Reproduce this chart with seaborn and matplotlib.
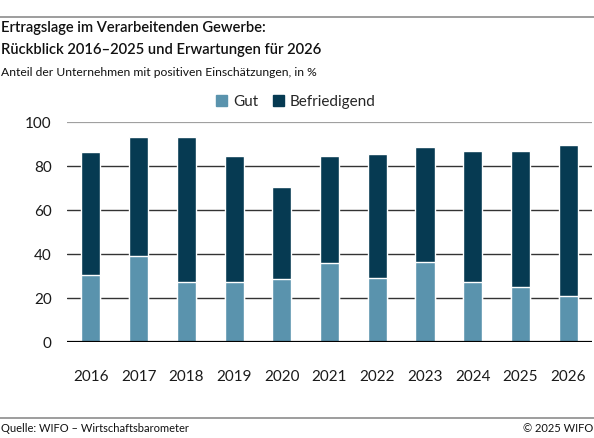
import matplotlib
matplotlib.use("Agg")
import matplotlib.pyplot as plt
import seaborn as sns
import pandas as pd
from matplotlib.patches import Patch
from matplotlib.lines import Line2D

# ================= DATOS =================
jahre = ['2016', '2017', '2018', '2019', '2020', '2021', '2022', '2023', '2024', '2025', '2026']
gut = [30.6, 39.1, 27.3, 27.3, 28.6, 35.8, 29.2, 36.2, 27.3, 25.2, 20.9]
gesamt = [86.5, 93.0, 93.0, 84.7, 70.3, 84.7, 85.6, 88.6, 86.7, 86.7, 89.7]
befriedigend = [round(t - g, 1) for t, g in zip(gesamt, gut)]

FARBE_GUT = '#5a93ad'
FARBE_BEF = '#063a52'

df = pd.DataFrame({'Jahr': jahre, 'Gut': gut, 'Befriedigend': befriedigend})
df['Summe'] = df['Gut'] + df['Befriedigend']

# ================= FIGUR =================
sns.set_style("white")
plt.rcParams['font.family'] = ['Lato', 'DejaVu Sans']

W, H = 594, 438
fig = plt.figure(figsize=(W / 100, H / 100), dpi=100)


def px(x, y):
    return x / W, 1 - y / H


ax = fig.add_axes([67 / W, 1 - 342 / H, (592 - 67) / W, (342 - 122) / H])

# Gitterlinien (hinter den Balken)
for v in [20, 40, 60, 80]:
    ax.axhline(v, color='#333333', lw=1.0, zorder=0)
ax.axhline(100, color='#a0a0a0', lw=1.6, zorder=0)

# gestapelte Balken: Summe dunkel, darüber "Gut" hell
sns.barplot(data=df, x='Jahr', y='Summe', color=FARBE_BEF, width=0.4,
            saturation=1, ax=ax, zorder=2)
sns.barplot(data=df, x='Jahr', y='Gut', color=FARBE_GUT, width=0.4,
            saturation=1, ax=ax, zorder=3)

ax.axhline(0, color='black', lw=1.6, zorder=4)

ax.set_ylim(0, 100)
ax.set_xlim(-0.5, len(jahre) - 0.5)
ax.set_yticks([0, 20, 40, 60, 80, 100])
ax.set_xlabel('')
ax.set_ylabel('')
for s in ax.spines.values():
    s.set_visible(False)
ax.tick_params(axis='both', length=0, labelsize=11, colors='#1a1a1a')
ax.tick_params(axis='y', pad=11)
ax.tick_params(axis='x', pad=20)

# ================= TEXTE =================
fig.add_artist(Line2D([0, 1], [1 - 17 / H, 1 - 17 / H], color='#8c8c8c', lw=1.2))
fig.add_artist(Line2D([0, 1], [1 - 418 / H, 1 - 418 / H], color='#8c8c8c', lw=1.2))

fig.text(*px(1, 28), 'Ertragslage im Verarbeitenden Gewerbe:', fontsize=10.6,
         fontweight='semibold', va='center', ha='left', color='#111111')
fig.text(*px(1, 50), 'Rückblick 2016–2025 und Erwartungen für 2026', fontsize=10.6,
         fontweight='semibold', va='center', ha='left', color='#111111')
fig.text(*px(1, 72), 'Anteil der Unternehmen mit positiven Einschätzungen, in %', fontsize=8.7,
         va='center', ha='left', color='#111111')

handles = [Patch(color=FARBE_GUT, label='Gut'), Patch(color=FARBE_BEF, label='Befriedigend')]
fig.legend(handles=handles, loc='center', bbox_to_anchor=px(296, 102), ncol=2,
           frameon=False, fontsize=11, handlelength=0.7, handleheight=0.7,
           handletextpad=0.4, columnspacing=1.0)

fig.text(*px(1, 428), 'Quelle: WIFO – Wirtschaftsbarometer', fontsize=8.0,
         va='center', ha='left', color='#111111')
fig.text(*px(593, 428), '© 2025 WIFO', fontsize=8.0,
         va='center', ha='right', color='#111111')

fig.savefig('out.png', dpi=100)
